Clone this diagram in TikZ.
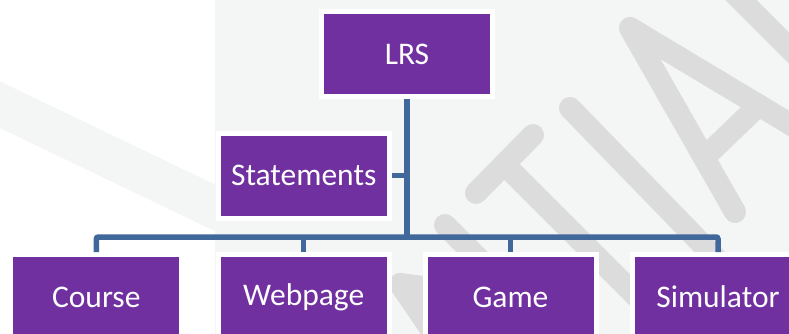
\documentclass[tikz,border=0pt]{standalone}
\usepackage{fontspec}
\setmainfont{Carlito}
\definecolor{lrspurple}{HTML}{7030A0}
\definecolor{treeblue}{HTML}{41689A}
\definecolor{pagegray}{HTML}{F4F5F5}
\definecolor{wmgray}{HTML}{DCDCDC}
\tikzset{
    box/.style={draw=white, line width=5pt, fill=lrspurple, text=white, inner sep=0pt,
        minimum width=171pt, minimum height=85pt, font=\fontsize{31.5}{36}\selectfont},
    link/.style={draw=treeblue, line width=5.5pt},
    wmstroke/.style={draw=wmgray, line width=22pt, line cap=round, line join=round}
}

\begin{document}
\begin{tikzpicture}[x=1pt, y=-1pt]
    \useasboundingbox (0,0) rectangle (789,334);
    \clip (0,0) rectangle (789,334);
    \fill[white] (0,0) rectangle (789,334);
    \fill[pagegray] (215,0) rectangle (789,334);
    % faint watermark behind the chart
    \draw[pagegray, line width=42pt] (-10,100) -- (230,215);
    \draw[wmstroke] (476,193) -- (533,135);
    \draw[wmstroke] (505,165) -- (660,320);
    \draw[wmstroke] (570,108) -- (735,278);
    \draw[wmstroke] (735,212) -- (630,28) -- (810,136);
    \draw[wmstroke] (708,154) -- (758,106);
    \draw[wmstroke] (731,-10) -- (800,59);
    \draw[wmstroke] (445,225) -- (540,320);
    \draw[wmstroke] (445,290) -- (400,284) -- (445,350);
    \node[box] (lrs) at (407,54) {LRS};
    \node[box] (stmt) at (303.7,175.5) {Statements};
    \node[box] (course) at (96.3,297) {Course};
    \node[box] (web) at (303.7,297) {Webpage};
    \node[box] (game) at (510.5,297) {Game};
    \node[box] (sim) at (718,297) {Simulator};
    \coordinate (bus) at (407,237);
    \draw[link] (lrs.south) -- (bus);
    \draw[link] (stmt.east) -- (stmt.east -| lrs.south);
    % one bus across the four children
    \draw[link, rounded corners=2pt] (course.north) |- (bus) -| (sim.north);
    \draw[link] (web.north) -- (web.north |- bus);
    \draw[link] (game.north) -- (game.north |- bus);
\end{tikzpicture}
\end{document}
